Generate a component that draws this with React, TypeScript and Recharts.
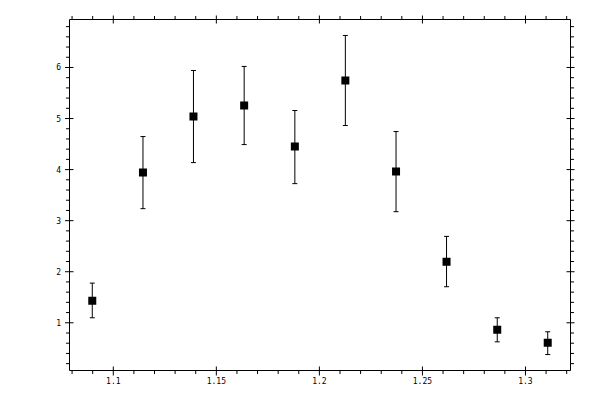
import React from 'react';
import { ScatterChart, Scatter, XAxis, YAxis, ZAxis, ErrorBar } from 'recharts';

// Data
const xValues = [1.0898, 1.1144, 1.1389, 1.1635, 1.1881, 1.2126, 1.2372, 1.2617, 1.2863, 1.3108];
const yValues = [1.431, 3.941, 5.039, 5.255, 4.451, 5.745, 3.961, 2.196, 0.863, 0.608];
const errLow = [0.333, 0.706, 0.902, 0.765, 0.726, 0.882, 0.785, 0.49, 0.236, 0.23];
const errHigh = [0.346, 0.706, 0.902, 0.765, 0.706, 0.882, 0.784, 0.496, 0.235, 0.216];

const xMajorTicks = [1.1, 1.15, 1.2, 1.25, 1.3];
const yMajorTicks = [1, 2, 3, 4, 5, 6];
const xMinorStep = 0.01;
const yMinorStep = 0.2;

const data = xValues.map((x, i) => ({ x, y: yValues[i], err: [errLow[i], errHigh[i]] }));

const padDomain = (min: number, max: number): [number, number] => {
  const r = max - min;
  return [min - 0.05 * r, max + 0.05 * r];
};
const xDomain = padDomain(Math.min(...xValues), Math.max(...xValues));
const yDomain = padDomain(
  Math.min(...yValues.map((v, i) => v - errLow[i])),
  Math.max(...yValues.map((v, i) => v + errHigh[i]))
);

const stepTicks = (domain: [number, number], step: number) => {
  const out: number[] = [];
  for (let k = Math.ceil(domain[0] / step - 1e-9); k * step <= domain[1] + 1e-9; k++) {
    out.push(Math.round(k * step * 1e6) / 1e6);
  }
  return out;
};
const xTicks = stepTicks(xDomain, xMinorStep);
const yTicks = stepTicks(yDomain, yMinorStep);

const isMajor = (v: number, majors: number[]) => majors.some((m) => Math.abs(m - v) < 1e-6);

const FONT = 'DejaVu Sans Mono';
const MAJ = 4;
const MIN = 3.5;

type Side = 'bottom' | 'top' | 'left' | 'right';

const makeTick = (side: Side, majors: number[], showLabel: boolean) => (props: any) => {
  const { x, y, payload } = props;
  const v = payload.value as number;
  const major = isMajor(v, majors);
  let c: number[];
  switch (side) {
    case 'bottom':
      c = major ? [x, y - MAJ, x, y + MAJ + 1] : [x, y, x, y + MIN];
      break;
    case 'top':
      c = major ? [x, y - MAJ, x, y + MAJ] : [x, y - MIN, x, y];
      break;
    case 'left':
      c = major ? [x - MAJ - 0.5, y, x + MAJ, y] : [x - MIN, y, x, y];
      break;
    default:
      c = major ? [x - MAJ, y, x + MAJ, y] : [x, y, x + MIN, y];
  }
  let label = null;
  if (showLabel && major) {
    if (side === 'bottom') {
      label = (
        <text x={x} y={y + 13.5} textAnchor="middle" fontFamily={FONT} fontSize={8} fill="#000">
          {String(v)}
        </text>
      );
    } else if (side === 'left') {
      label = (
        <text x={x - 8.5} y={y + 3} textAnchor="end" fontFamily={FONT} fontSize={8} fill="#000">
          {String(v)}
        </text>
      );
    }
  }
  return (
    <g>
      <line x1={c[0]} y1={c[1]} x2={c[2]} y2={c[3]} stroke="#000" strokeWidth={1} />
      {label}
    </g>
  );
};

const axisLine = { stroke: '#000', strokeWidth: 1 };

export default function App() {
  return (
    <div style={{ position: 'absolute', left: 0, top: 0, width: 600, height: 400, background: '#fff' }}>
      <ScatterChart width={600} height={400} margin={{ top: 0, right: 0, bottom: 0, left: 0 }}>
        <XAxis
          xAxisId="b"
          type="number"
          dataKey="x"
          orientation="bottom"
          domain={xDomain}
          allowDataOverflow
          ticks={xTicks}
          interval={0}
          height={29.5}
          tickLine={false}
          tickSize={0}
          tickMargin={0}
          axisLine={axisLine}
          tick={makeTick('bottom', xMajorTicks, true)}
        />
        <XAxis
          xAxisId="t"
          type="number"
          dataKey="x"
          orientation="top"
          domain={xDomain}
          allowDataOverflow
          ticks={xTicks}
          interval={0}
          height={19.5}
          tickLine={false}
          tickSize={0}
          tickMargin={0}
          axisLine={axisLine}
          tick={makeTick('top', xMajorTicks, false)}
        />
        <YAxis
          yAxisId="l"
          type="number"
          dataKey="y"
          orientation="left"
          domain={yDomain}
          allowDataOverflow
          ticks={yTicks}
          interval={0}
          width={69.5}
          tickLine={false}
          tickSize={0}
          tickMargin={0}
          axisLine={axisLine}
          tick={makeTick('left', yMajorTicks, true)}
        />
        <YAxis
          yAxisId="r"
          type="number"
          dataKey="y"
          orientation="right"
          domain={yDomain}
          allowDataOverflow
          ticks={yTicks}
          interval={0}
          width={29.5}
          tickLine={false}
          tickSize={0}
          tickMargin={0}
          axisLine={axisLine}
          tick={makeTick('right', yMajorTicks, false)}
        />
        <ZAxis range={[49, 49]} />
        <Scatter
          xAxisId="t"
          yAxisId="r"
          data={data}
          isAnimationActive={false}
          shape={() => <g />}
        />
        <Scatter
          xAxisId="b"
          yAxisId="l"
          data={data}
          fill="#000"
          shape="square"
          isAnimationActive={false}
        >
          <ErrorBar dataKey="err" direction="y" width={2.5} stroke="#000" strokeWidth={1} isAnimationActive={false} />
        </Scatter>
      </ScatterChart>
    </div>
  );
}
